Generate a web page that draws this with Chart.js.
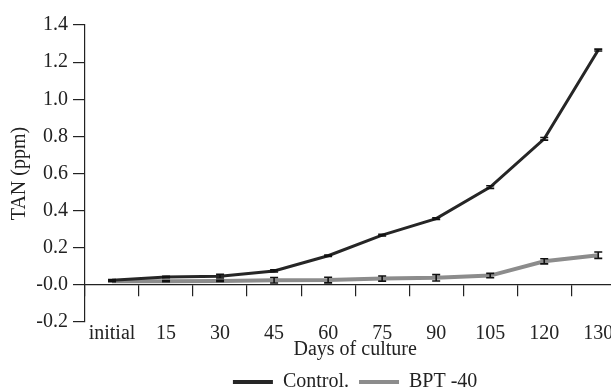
<!DOCTYPE html>
<html>
<head>
<meta charset="utf-8">
<script src="https://cdn.jsdelivr.net/npm/chart.js@4.4.0/dist/chart.umd.min.js"></script>
<style>
  html, body { margin: 0; padding: 0; background: #fff; overflow: hidden; }
  #wrap { position: relative; width: 640px; height: 402px; }
</style>
</head>
<body>
<div id="wrap"><canvas id="chartTAN"></canvas></div>
<script>
// días de cultivo y TAN (ppm)
const dias       = ['initial', '15', '30', '45', '60', '75', '90', '105', '120', '130'];
const control    = [0.025, 0.042, 0.047, 0.075, 0.157, 0.268, 0.357, 0.527, 0.787, 1.265];
const controlErr = [0.004, 0.004, 0.010, 0.006, 0.004, 0.005, 0.005, 0.007, 0.007, 0.005];
const bpt        = [0.020, 0.020, 0.021, 0.025, 0.026, 0.034, 0.038, 0.050, 0.127, 0.160];
const bptErr     = [0.003, 0.003, 0.003, 0.015, 0.015, 0.014, 0.017, 0.012, 0.014, 0.017];
const yMin = -0.2, yMax = 1.4, yStep = 0.2;

const FONT = "'Liberation Serif', 'Times New Roman', serif";
const INK = '#222';

// barras de error (no vienen con Chart.js)
const barrasError = {
  id: 'barrasError',
  afterDatasetsDraw(chart) {
    const { ctx } = chart;
    const y = chart.scales.y;
    ctx.save();
    ctx.strokeStyle = '#111';
    ctx.lineWidth = 1.6;
    chart.data.datasets.forEach((ds, di) => {
      const meta = chart.getDatasetMeta(di);
      ds.errores.forEach((e, i) => {
        const px = meta.data[i].x;
        const top = y.getPixelForValue(ds.data[i] + e);
        const bot = y.getPixelForValue(ds.data[i] - e);
        ctx.beginPath();
        ctx.moveTo(px, top); ctx.lineTo(px, bot);
        ctx.moveTo(px - 4, top); ctx.lineTo(px + 4, top);
        ctx.moveTo(px - 4, bot); ctx.lineTo(px + 4, bot);
        ctx.stroke();
      });
    });
    ctx.restore();
  }
};

new Chart(document.getElementById('chartTAN'), {
  type: 'line',
  data: {
    labels: dias,
    datasets: [
      { label: 'Control.', data: control, errores: controlErr, borderColor: '#262626', backgroundColor: '#262626', borderWidth: 3, pointRadius: 0, tension: 0 },
      { label: 'BPT -40',  data: bpt,     errores: bptErr,     borderColor: '#8c8c8c', backgroundColor: '#8c8c8c', borderWidth: 4, pointRadius: 0, tension: 0 }
    ]
  },
  options: {
    responsive: true,
    maintainAspectRatio: false,
    animation: false,
    layout: { padding: { top: 25, left: 8, right: 12, bottom: 0 } },
    plugins: {
      legend: {
        position: 'bottom',
        fullSize: false,
        labels: {
          boxWidth: 40, boxHeight: 4, padding: 10,
          color: INK, font: { family: FONT, size: 20 },
          generateLabels: chart => Chart.defaults.plugins.legend.labels.generateLabels(chart).map(l => ({ ...l, lineWidth: 0 }))
        }
      },
      title: {
        display: true, position: 'bottom', text: 'Days of culture',
        fullSize: false, weight: 500,
        color: INK, font: { family: FONT, size: 20, weight: 'normal' },
        padding: { top: 16, bottom: 0 }
      },
      tooltip: { enabled: false }
    },
    scales: {
      x: {
        type: 'category',
        position: { y: 0 },
        offset: true,
        grid: { offset: true, drawOnChartArea: false, drawTicks: true, tickLength: 11, color: INK, lineWidth: 1.2 },
        border: { display: true, color: INK, width: 1.2 },
        ticks: { padding: 26, color: INK, font: { family: FONT, size: 20 }, maxRotation: 0, autoSkip: false }
      },
      y: {
        min: yMin, max: yMax,
        ticks: { stepSize: yStep, padding: 5, color: INK, font: { family: FONT, size: 20 }, callback: v => v.toFixed(1) },
        grid: { drawOnChartArea: false, tickLength: 12, color: INK, lineWidth: 1.2 },
        border: { color: INK, width: 1.2 },
        title: { display: true, text: 'TAN (ppm)', color: INK, font: { family: FONT, size: 20 }, padding: { top: 0, bottom: 4 } },
        afterFit: s => { s.width = 77; }
      }
    }
  },
  plugins: [barrasError]
});
</script>
</body>
</html>
